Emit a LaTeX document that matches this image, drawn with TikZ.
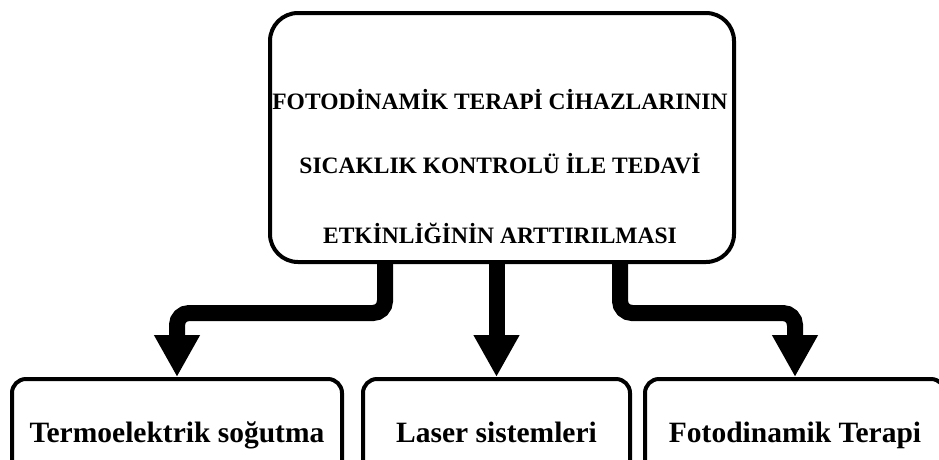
\documentclass[tikz,border=0pt]{standalone}
\usepackage{fontspec}
\setmainfont{Liberation Serif}
\usetikzlibrary{arrows.meta}
\begin{document}
\begin{tikzpicture}[x=1pt,y=-1pt,
  bigbox/.style={draw, line width=4pt, rounded corners=28pt, minimum width=464pt, minimum height=249pt, inner sep=0pt},
  subbox/.style={draw, line width=4pt, rounded corners=14pt, minimum height=106pt, inner sep=0pt,
     text height=26pt, text depth=6pt, font=\fontsize{29.5}{32}\selectfont\bfseries},
  toptext/.style={anchor=base, inner sep=0pt, font=\fontsize{23.5}{26}\selectfont\bfseries},
  conn/.style={line width=16pt, rounded corners=12pt, -{Triangle[width=43pt,length=42pt]}}]
\clip (0,0) rectangle (939,459);
\node[bigbox] (top) at (502,137.5) {};
\node[toptext] (t1) at (500,109) {FOTODİNAMİK TERAPİ CİHAZLARININ};
\node[toptext] (t2) at (500,173) {SICAKLIK KONTROLÜ İLE TEDAVİ};
\node[toptext] (t3) at (500,243) {ETKİNLİĞİNİN ARTTIRILMASI};
\node[subbox, minimum width=330pt] (b1) at (177,432) {Termoelektrik soğutma};
\node[subbox, minimum width=267pt] (b2) at (496.5,432) {Laser sistemleri};
\node[subbox, minimum width=300pt] (b3) at (795,432) {Fotodinamik Terapi};
\draw[conn] ([xshift=-117pt]top.south) -- ++(0,49) -| (b1.north);
\draw[conn] (top.south -| b2.north) -- (b2.north);
\draw[conn] ([xshift=118pt]top.south) -- ++(0,49) -| (b3.north);
\end{tikzpicture}
\end{document}
